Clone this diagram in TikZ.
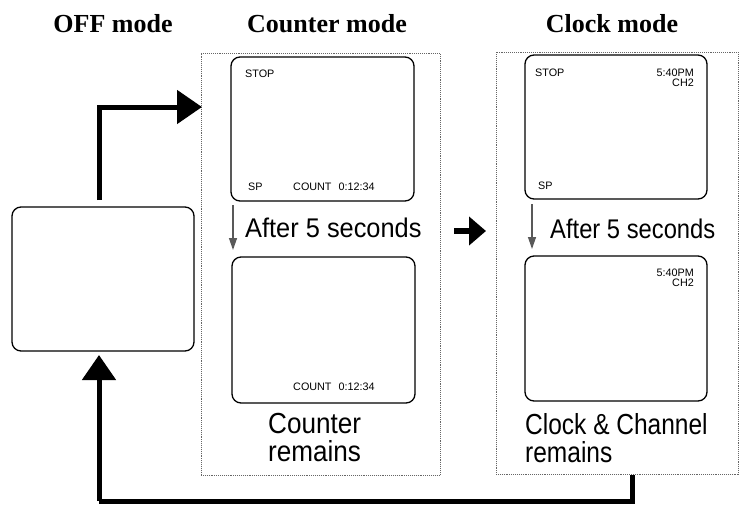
\documentclass[tikz,border=0pt]{standalone}
\usepackage{fontspec}
\setmainfont{Liberation Serif}
\newfontfamily\arialf{Liberation Sans}
\usetikzlibrary{arrows.meta}
\begin{document}
\begin{tikzpicture}[x=1pt,y=-1pt,
  screen/.style={draw, line width=1.3pt, rounded corners=9pt, inner sep=0pt},
  dotbox/.style={draw=black!60, line width=0.9pt, densely dotted},
  modetitle/.style={font=\bfseries\fontsize{26}{28}\selectfont, inner sep=0pt, anchor=base},
  osd/.style={font=\arialf\fontsize{10.8}{9}\selectfont, inner sep=0pt},
  bigtext/.style={font=\arialf\fontsize{29}{25}\selectfont, inner sep=0pt, anchor=north west},
  midtext/.style={font=\arialf\fontsize{27}{30}\selectfont, inner sep=0pt, anchor=base west},
  bigarrow/.style={line width=5pt, -{Triangle[width=33pt,length=25pt]}},
  thinarrow/.style={draw=black!65, line width=1.3pt, -{Triangle[width=8pt,length=12pt]}, fill=black!65}
]
\useasboundingbox (0,0) rectangle (744,504);
\fill[white] (0,0) rectangle (744,504);

% titles
\node[modetitle] (toff) at (113,32) {OFF mode};
\node[modetitle] (tcnt) at (327,32) {Counter mode};
\node[modetitle] (tclk) at (612,32) {Clock mode};

% dotted mode boxes
\node[dotbox, minimum width=239pt, minimum height=422pt, inner sep=0pt] (bcnt) at (320.5,264) {};
\node[dotbox, minimum width=242pt, minimum height=422pt, inner sep=0pt] (bclk) at (617,263) {};

% screens
\node[screen, minimum width=182pt, minimum height=144pt] (off) at (103,279) {};
\node[screen, minimum width=183pt, minimum height=144pt] (c1) at (322.5,129) {};
\node[screen, minimum width=183pt, minimum height=146pt] (c2) at (323.5,330) {};
\node[screen, minimum width=182pt, minimum height=144pt] (k1) at (616,127) {};
\node[screen, minimum width=182pt, minimum height=145pt] (k2) at (616,328.5) {};

% on-screen texts
\node[osd, anchor=base west] (c1stop) at (245,77) {STOP};
\node[osd, anchor=base west] (c1sp) at (248,190) {SP};
\node[osd, anchor=base west] (c1count) at (293,190) {COUNT\hspace{7pt}0:12:34};
\node[osd, anchor=base west] (c2count) at (293,390) {COUNT\hspace{7pt}0:12:34};
\node[osd, anchor=base west] (k1stop) at (535,76) {STOP};
\node[osd, anchor=base east] (k1time) at (694,76) {\begin{tabular}[t]{@{}r@{}}5:40PM\\CH2\end{tabular}};
\node[osd, anchor=base west] (k1sp) at (538,189) {SP};
\node[osd, anchor=base east] (k2time) at (694,276) {\begin{tabular}[t]{@{}r@{}}5:40PM\\CH2\end{tabular}};

% large texts
\node[midtext] (after1) at (245,237) {\scalebox{0.94}[1]{After 5 seconds}};
\node[midtext] (after2) at (550,238) {\scalebox{0.88}[1]{After 5 seconds}};
\node[bigtext] (crem) at (268,413) {\scalebox{0.9}[1]{\begin{tabular}{@{}c@{}}Counter\\remains\end{tabular}}};
\node[bigtext] (krem) at (525,413) {\scalebox{0.845}[1]{\begin{tabular}{@{}l@{}}Clock \& Channel\\remains\end{tabular}}};

% connectors
\coordinate (offtop) at (99,200);
\coordinate (offbot) at (99,355);
\coordinate (cntleft) at (202,107);
\coordinate (clkbot) at (632,475);
\coordinate (base) at (99,501);
\draw[bigarrow] (offtop) |- (cntleft);
\draw[line width=5pt] (clkbot) |- (base);
\draw[bigarrow] (base) -- (offbot);

\coordinate (m1) at (454,231);
\coordinate (m2) at (486,231);
\draw[line width=6pt, -{Triangle[width=28pt,length=17pt]}] (m1) -- (m2);

\coordinate (a1s) at (233,205);
\coordinate (a1e) at (233,250);
\coordinate (a2s) at (532,204);
\coordinate (a2e) at (532,249);
\draw[thinarrow] (a1s) -- (a1e);
\draw[thinarrow] (a2s) -- (a2e);
\end{tikzpicture}
\end{document}
